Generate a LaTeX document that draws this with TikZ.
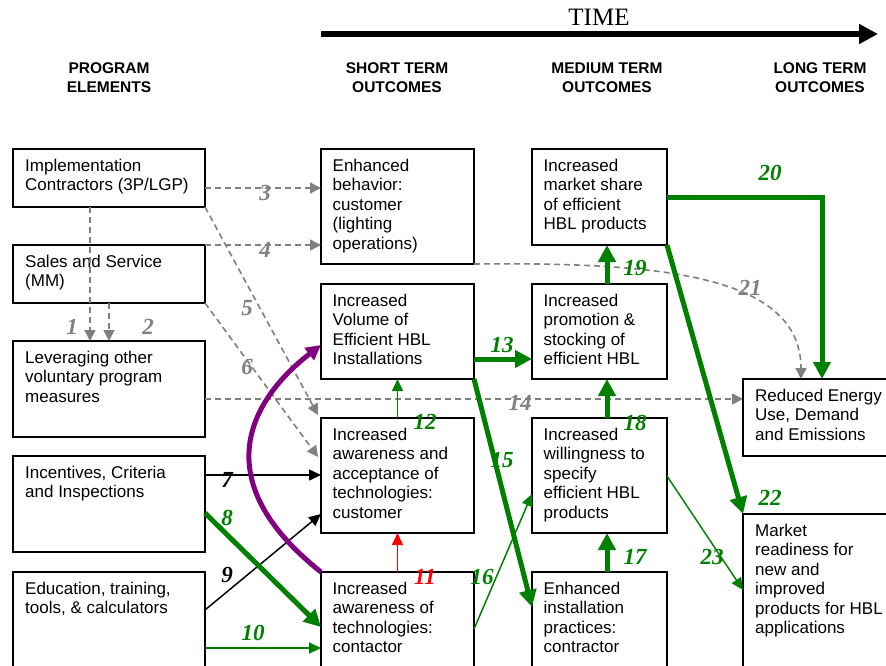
\documentclass[tikz,border=0pt]{standalone}
\usepackage{fontspec}
\setmainfont{Liberation Serif}
\setsansfont{Liberation Sans}
\usetikzlibrary{arrows.meta,calc}
\definecolor{dgreen}{RGB}{0,128,0}
\definecolor{dgray}{RGB}{128,128,128}
\definecolor{dpurple}{RGB}{128,0,128}
\definecolor{dred}{RGB}{255,0,0}
\begin{document}
\begin{tikzpicture}[x=1pt,y=-1pt,
  box/.style={draw,line width=1.1pt,rectangle,inner sep=0pt,outer sep=0pt,anchor=north west},
  txt/.style={anchor=north west,inner sep=0pt,align=left,font=\sffamily\fontsize{17}{19.5}\selectfont},
  hdr/.style={anchor=north,inner sep=0pt,align=center,font=\sffamily\bfseries\fontsize{15.5}{19}\selectfont},
  lab/.style={inner sep=0pt,font=\rmfamily\bfseries\itshape\fontsize{23}{23}\selectfont},
  dsh/.style={draw=dgray,line width=1.6pt,dash pattern=on 6pt off 4pt,-{Triangle[length=11pt,width=11pt]},color=dgray},
  thinarr/.style={line width=1.5pt,-{Triangle[length=12pt,width=11pt]}},
  medarr/.style={line width=2pt,-{Triangle[length=12pt,width=11pt]}},
  thickarr/.style={line width=5pt,-{Triangle[length=17pt,width=17pt]}}
]
\useasboundingbox (0,0) rectangle (886,666);
\fill[white] (0,0) rectangle (886,666);

% time arrow
\node[font=\rmfamily\fontsize{25}{25}\selectfont,inner sep=0pt] (time) at (599,17.5) {TIME};
\coordinate (t0) at (321,34);
\coordinate (t1) at (878,34);
\draw[line width=6pt,-{Triangle[length=19pt,width=19pt]}] (t0) -- (t1);

% headers
\node[hdr] (h1) at (109,59.7) {\strut PROGRAM\\ELEMENTS};
\node[hdr] (h2) at (397,59.7) {\strut SHORT TERM\\OUTCOMES};
\node[hdr] (h3) at (607,59.7) {\strut MEDIUM TERM\\OUTCOMES};
\node[hdr] (h4) at (820,59.7) {\strut LONG TERM\\OUTCOMES};

% boxes
\node[box,minimum width=192pt,minimum height=58pt] (A) at (13,149) {};
\node[box,minimum width=192pt,minimum height=58pt] (B) at (13,245) {};
\node[box,minimum width=192pt,minimum height=96pt] (C) at (13,341) {};
\node[box,minimum width=192pt,minimum height=96pt] (D) at (13,456) {};
\node[box,minimum width=192pt,minimum height=100pt] (E) at (13,572) {};
\node[box,minimum width=153pt,minimum height=115pt] (S1) at (321,149) {};
\node[box,minimum width=153pt,minimum height=95pt] (S2) at (321,284) {};
\node[box,minimum width=153pt,minimum height=115pt] (S3) at (321,418) {};
\node[box,minimum width=153pt,minimum height=100pt] (S4) at (321,572) {};
\node[box,minimum width=135pt,minimum height=96pt] (M1) at (532,149) {};
\node[box,minimum width=135pt,minimum height=95pt] (M2) at (532,284) {};
\node[box,minimum width=135pt,minimum height=115pt] (M3) at (532,418) {};
\node[box,minimum width=135pt,minimum height=100pt] (M4) at (532,572) {};
\node[box,minimum width=150pt,minimum height=77pt] (L1) at (743,379) {};
\node[box,minimum width=150pt,minimum height=160pt] (L2) at (743,514) {};

% box texts
\node[txt] (At) at ($(A.north west)+(12,8.4)$) {\strut Implementation\\Contractors (3P/LGP)};
\node[txt] (Bt) at ($(B.north west)+(12,8.4)$) {\strut Sales and Service\\(MM)};
\node[txt] (Ct) at ($(C.north west)+(12,8.4)$) {\strut Leveraging other\\voluntary program\\measures};
\node[txt] (Dt) at ($(D.north west)+(12,8.4)$) {\strut Incentives, Criteria\\and Inspections};
\node[txt] (Et) at ($(E.north west)+(12,8.4)$) {\strut Education, training,\\tools, \& calculators};
\node[txt] (S1t) at ($(S1.north west)+(11.5,8.4)$) {\strut Enhanced\\behavior:\\customer\\(lighting\\operations)};
\node[txt] (S2t) at ($(S2.north west)+(11.5,8.4)$) {\strut Increased\\Volume of\\Efficient HBL\\Installations};
\node[txt] (S3t) at ($(S3.north west)+(11.5,8.4)$) {\strut Increased\\awareness and\\acceptance of\\technologies:\\customer};
\node[txt] (S4t) at ($(S4.north west)+(11.5,8.4)$) {\strut Increased\\awareness of\\technologies:\\contactor};
\node[txt] (M1t) at ($(M1.north west)+(11.5,8.4)$) {\strut Increased\\market share\\of efficient\\HBL products};
\node[txt] (M2t) at ($(M2.north west)+(11.5,8.4)$) {\strut Increased\\promotion \&\\stocking of\\efficient HBL};
\node[txt] (M3t) at ($(M3.north west)+(11.5,8.4)$) {\strut Increased\\willingness to\\specify\\efficient HBL\\products};
\node[txt] (M4t) at ($(M4.north west)+(11.5,8.4)$) {\strut Enhanced\\installation\\practices:\\contractor};
\node[txt] (L1t) at ($(L1.north west)+(12,8.4)$) {\strut Reduced Energy\\Use, Demand\\and Emissions};
\node[txt] (L2t) at ($(L2.north west)+(12,8.4)$) {\strut Market\\readiness for\\new and\\improved\\products for HBL\\applications};

% dashed gray connectors
\draw[dsh] (A.south -| 90,0) -- (C.north -| 90,0);
\draw[dsh] (B.south -| 109,0) -- (C.north -| 109,0);
\draw[dsh] (A.east |- 0,188) -- (S1.west |- 0,188);
\draw[dsh] (B.north east) -- (S1.west |- 0,245);
\draw[dsh] (A.south east) -- ($(S3.north west)+(-3,-3)$);
\draw[dsh] (B.south east) -- ($(S3.north west)+(-3,39)$);
\draw[dsh] (C.east |- 0,399) -- (L1.west |- 0,399);
\draw[dsh] (S1.south east) .. controls (660,262) and (801,275) .. (L1.north -| 801,0);

% black
\draw[thinarr] (D.east |- 0,475) -- (S3.west |- 0,475);
\draw[thinarr] (E.east |- 0,610) -- (S3.west |- 0,514);

% green
\draw[thickarr,dgreen] (D.east |- 0,513) -- (S4.west |- 0,627);
\draw[medarr,dgreen] (E.east |- 0,648) -- (S4.west |- 0,648);
\draw[thinarr,dgreen] (S3.north) -- (S2.south);
\draw[thickarr,dgreen] (S2.east |- 0,359) -- (M2.west |- 0,359);
\draw[thickarr,dgreen] (S2.south east) -- (M4.west |- 0,607);
\draw[thinarr,dgreen] (S4.east |- 0,629) -- (M3.west |- 0,494);
\draw[thickarr,dgreen] (M4.north -| 607,0) -- (M3.south -| 607,0);
\draw[thickarr,dgreen] (M3.north -| 607,0) -- (M2.south -| 607,0);
\draw[thickarr,dgreen] (M2.north -| 607,0) -- (M1.south -| 607,0);
\draw[thickarr,dgreen] (M1.east |- 0,197) -| (L1.north -| 822,0);
\draw[thickarr,dgreen] (M1.south east) -- (L2.north west);
\draw[thinarr,dgreen] (M3.east |- 0,476) -- (L2.west |- 0,590);

% red
\draw[thinarr,dred] (S4.north) -- (S3.south);

% purple
\draw[line width=5pt,dpurple,-{Triangle[length=15pt,width=15pt]}] (S4.north west) .. controls (205,480) and (250,400) .. (S2.west |- 0,345);

% labels
\node[lab,dgray] (l1) at (72,327) {1};
\node[lab,dgray] (l2) at (148,327) {2};
\node[lab,dgray] (l3) at (265,193) {3};
\node[lab,dgray] (l4) at (265,250) {4};
\node[lab,dgray] (l5) at (247,308) {5};
\node[lab,dgray] (l6) at (247,367) {6};
\node[lab] (l7) at (227,480) {7};
\node[lab,dgreen] (l8) at (227,518) {8};
\node[lab] (l9) at (227,575) {9};
\node[lab,dgreen] (l10) at (253,633) {10};
\node[lab,dred] (l11) at (425,577) {11};
\node[lab,dgreen] (l12) at (425,422) {12};
\node[lab,dgreen] (l13) at (502,345) {13};
\node[lab,dgray] (l14) at (520,403) {14};
\node[lab,dgreen] (l15) at (502,460) {15};
\node[lab,dgreen] (l16) at (482,577) {16};
\node[lab,dgreen] (l17) at (635,557) {17};
\node[lab,dgreen] (l18) at (635,423) {18};
\node[lab,dgreen] (l19) at (635,268) {19};
\node[lab,dgreen] (l20) at (770,173) {20};
\node[lab,dgray] (l21) at (750,288) {21};
\node[lab,dgreen] (l22) at (770,498) {22};
\node[lab,dgreen] (l23) at (712,557) {23};
\end{tikzpicture}
\end{document}
